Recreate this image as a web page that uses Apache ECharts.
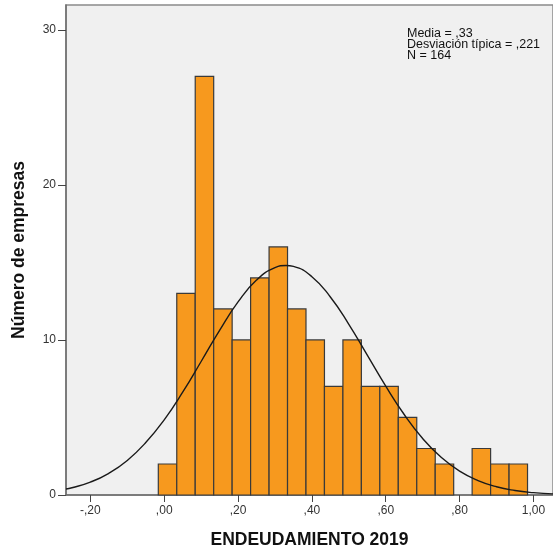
<!DOCTYPE html>
<html>
<head>
<meta charset="utf-8">
<script src="https://cdn.jsdelivr.net/npm/echarts@6/dist/echarts.min.js"></script>
<style>html,body{margin:0;padding:0;background:#fff}#c{width:553px;height:554px}</style>
</head>
<body>
<div id="c"></div>
<script>
// Histogram bin edges and counts
const binEdges = [-0.016,0.034,0.084,0.134,0.184,0.234,0.284,0.334,0.384,0.434,0.484,0.534,0.584,0.634,0.684,0.734,0.784,0.834,0.884,0.934,0.984];
const counts = [2,13,27,12,10,14,16,12,10,7,10,7,7,5,3,2,0,3,2,2];
// Normal curve
const curveX = [-0.266,-0.25,-0.20,-0.15,-0.10,-0.05,0.00,0.05,0.10,0.15,0.20,0.25,0.30,0.33,0.35,0.40,0.45,0.50,0.55,0.60,0.65,0.70,0.75,0.80,0.85,0.90,0.95,1.00,1.053];
const curveY = [0.39,0.47,0.83,1.40,2.23,3.38,4.85,6.63,8.61,10.62,12.45,13.86,14.66,14.80,14.74,14.08,12.77,11.01,9.02,7.02,5.19,3.64,2.43,1.54,0.93,0.53,0.29,0.15,0.07];
const xTicks = [-0.2,0,0.2,0.4,0.6,0.8,1.0];
const yTicks = [0,10,20,30];
const statsLines = ['Media = ,33','Desviación típica = ,221','N = 164'];
const xTitle = 'ENDEUDAMIENTO 2019';
const yTitle = 'Número de empresas';

function fmtX(v){
  const s = Math.abs(v).toFixed(2).replace('.', ',');
  const t = s.startsWith('0') ? s.slice(1) : s;
  return (v < -1e-9 ? '-' : '') + t;
}

const barData = [];
for (let i = 0; i < counts.length; i++) {
  if (counts[i] > 0) barData.push([binEdges[i], binEdges[i+1], counts[i]]);
}
const lineData = curveX.map((x,i)=>[x, curveY[i]]);

const chart = echarts.init(document.getElementById('c'), null, {renderer:'canvas'});
const font = '"Liberation Sans", Arial, sans-serif';
chart.setOption({
  animation:false,
  backgroundColor:'#ffffff',
  grid:{left:66, top:5, right:-3, bottom:58, show:true, backgroundColor:'#f0f0f0', borderColor:'#8a8a8a', borderWidth:1.5},
  xAxis:{
    type:'value', min:-0.266, max:1.053,
    name:xTitle, nameLocation:'middle', nameGap:36,
    nameTextStyle:{fontFamily:font, fontWeight:'bold', fontSize:17.5, color:'#111'},
    axisLine:{show:true, onZero:false, lineStyle:{color:'#6e6e6e', width:1.5}},
    axisTick:{show:true, length:7, lineStyle:{color:'#444'}, customValues:xTicks},
    axisLabel:{fontFamily:font, fontSize:12, color:'#333', margin:10, customValues:xTicks, formatter:fmtX},
    splitLine:{show:false}
  },
  yAxis:{
    type:'value', min:0, max:31.6, interval:10,
    name:yTitle, nameLocation:'middle', nameGap:38, nameRotate:90,
    nameTextStyle:{fontFamily:font, fontWeight:'bold', fontSize:17.5, color:'#111'},
    axisLine:{show:true, onZero:false, lineStyle:{color:'#6e6e6e', width:1.5}},
    axisTick:{show:true, length:8, lineStyle:{color:'#444'}},
    axisLabel:{fontFamily:font, fontSize:12, color:'#333', margin:10, showMaxLabel:false},
    splitLine:{show:false}
  },
  graphic:[{
    type:'text', left:407, top:27,
    style:{text:statsLines.join('\n'), font:'12.5px '+font, fill:'#111', lineHeight:11}
  }],
  series:[
    {
      type:'custom', data:barData, z:2,
      encode:{x:[0,1], y:2},
      renderItem:function(params, api){
        const p0 = api.coord([api.value(0), api.value(2)]);
        const p1 = api.coord([api.value(1), 0]);
        return {type:'rect', shape:{x:p0[0], y:p0[1], width:p1[0]-p0[0], height:p1[1]-p0[1]},
          style:{fill:'#f7991e', stroke:'#3a3a3a', lineWidth:1.2}};
      }
    },
    {
      type:'line', data:lineData, smooth:true, showSymbol:false, z:5, clip:true,
      lineStyle:{color:'#1a1a1a', width:1.4}
    }
  ]
});
</script>
</body>
</html>
